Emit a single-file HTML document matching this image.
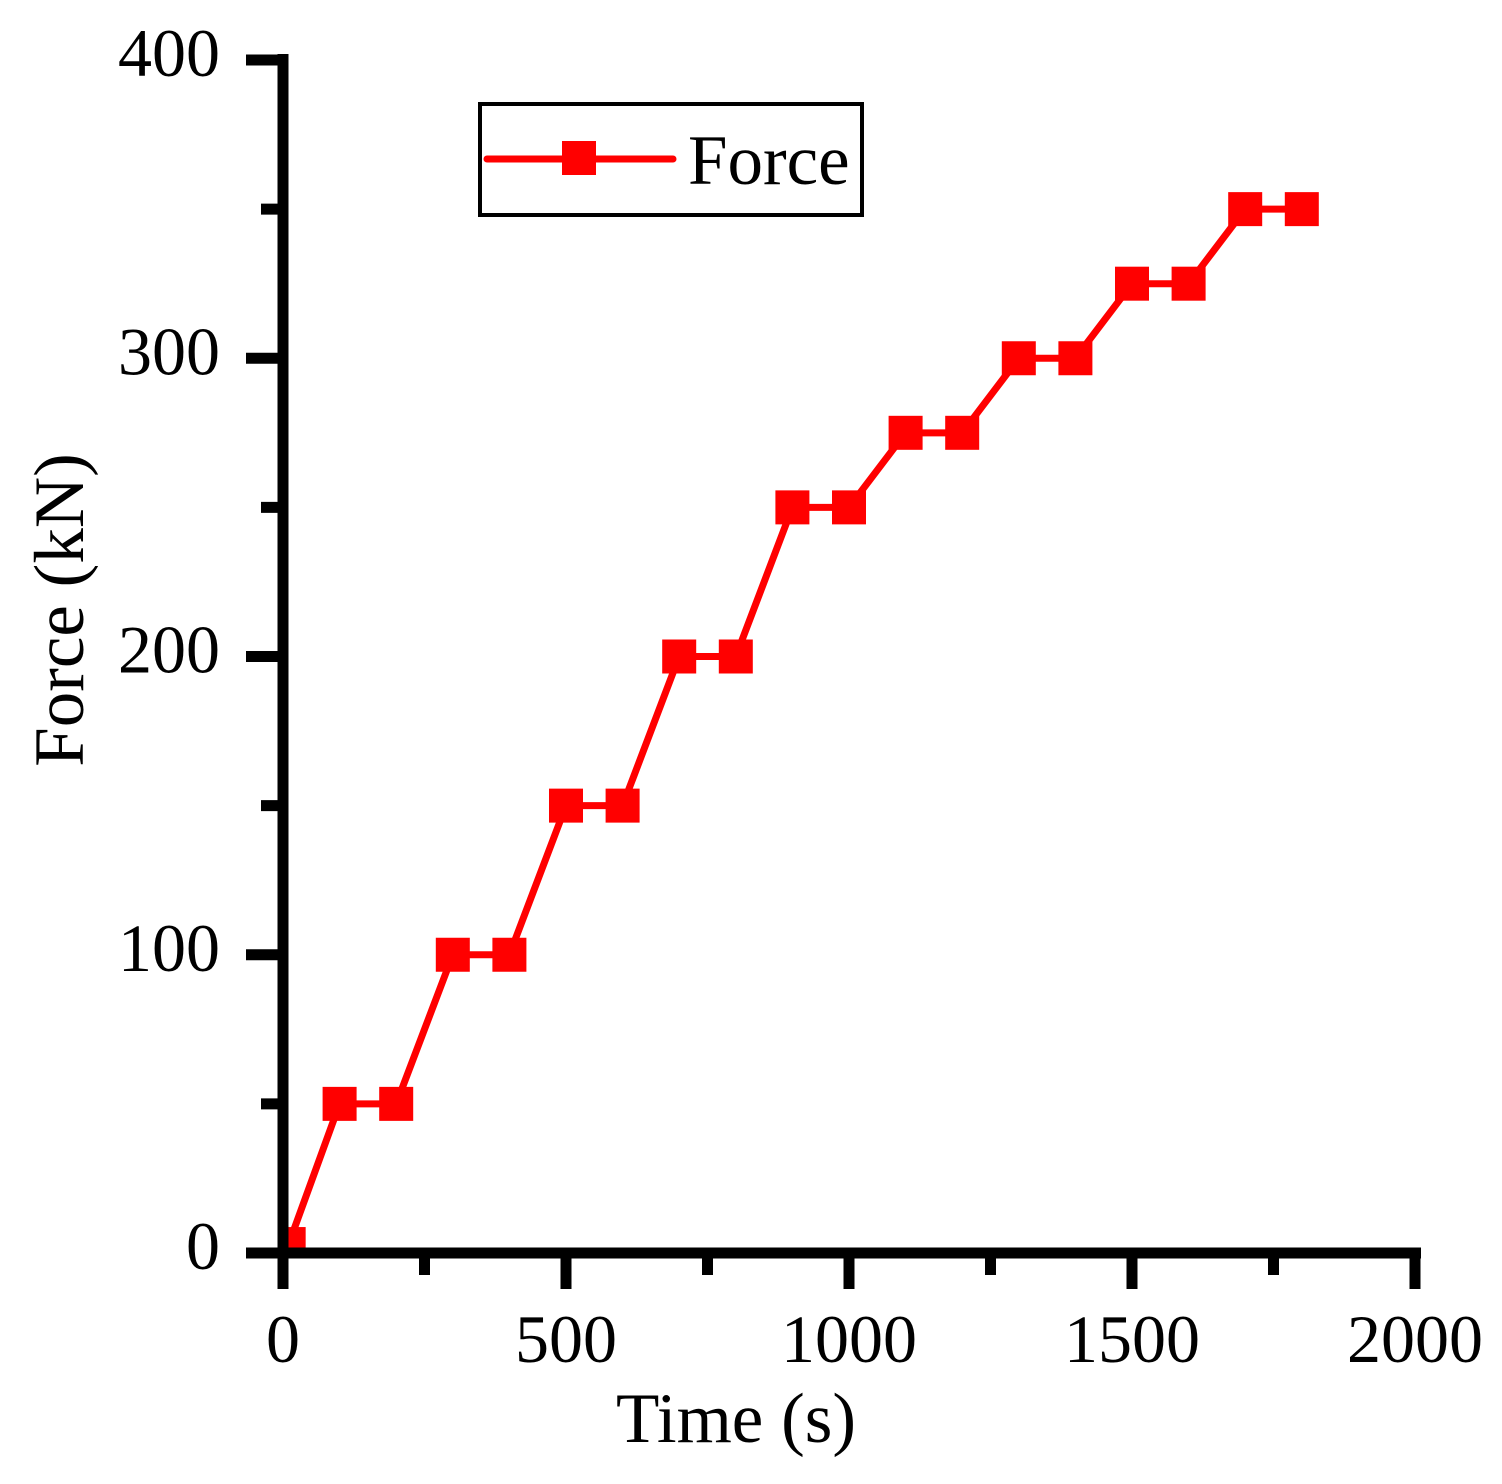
<!DOCTYPE html>
<html><head><meta charset="utf-8"><style>
html,body{margin:0;padding:0;background:#fff;}
svg{display:block;font-family:"Liberation Serif",serif;}
</style></head><body>
<svg id="chart" width="1502" height="1484" viewBox="0 0 1502 1484" xmlns="http://www.w3.org/2000/svg">
<defs><clipPath id="plotclip"><rect x="283" y="0" width="1200" height="1253"/></clipPath></defs>
<g id="series" clip-path="url(#plotclip)"></g>
<g id="axes"></g>
<g id="legend">
<rect x="480" y="104" width="382" height="111" fill="#fff" stroke="#000" stroke-width="4"/>
<line x1="487" y1="159" x2="673" y2="159" stroke="#f00" stroke-width="7" stroke-linecap="round"/>
<rect x="562" y="141" width="34" height="34" fill="#f00"/>
<text x="688" y="184" font-size="71">Force</text>
</g>
<text x="736" y="1442" font-size="71" text-anchor="middle">Time (s)</text>
<text transform="translate(83,610) rotate(-90)" font-size="71" text-anchor="middle">Force (kN)</text>
</svg>
<script>
const times=[10,100,200,300,400,500,600,700,800,900,1000,1100,1200,1300,1400,1500,1600,1700,1800];
const forces=[3,50,50,100,100,150,150,200,200,250,250,275,275,300,300,325,325,350,350];
const xTicks=[0,500,1000,1500,2000];
const xMinor=[250,750,1250,1750];
const yTicks=[0,100,200,300,400];
const yMinor=[50,150,250,350];
const NS="http://www.w3.org/2000/svg";
const X0=283,X1=1415,Y0=1253,Y1=60;
function sx(v){return X0+(v-0)/(2000-0)*(X1-X0);}
function sy(v){return Y0-(v-0)/(400-0)*(Y0-Y1);}
function mk(tag,attrs,parent){const e=document.createElementNS(NS,tag);for(const k in attrs)e.setAttribute(k,attrs[k]);parent.appendChild(e);return e;}
const series=document.getElementById('series');
const axes=document.getElementById('axes');
const pts=times.map((t,i)=>sx(t)+','+sy(forces[i])).join(' ');
const pl=mk('polyline',{points:pts,fill:'none',stroke:'#f00','stroke-width':7,'stroke-linejoin':'round'},series);


times.forEach((t,i)=>{
  const r=mk('rect',{x:sx(t)-17,y:sy(forces[i])-17,width:34,height:34,fill:'#f00'},series);
  
  
});
const ya=mk('line',{x1:X0,y1:54,x2:X0,y2:1259,stroke:'#000','stroke-width':11},axes);


const xa=mk('line',{x1:246,y1:Y0,x2:1421,y2:Y0,stroke:'#000','stroke-width':11},axes);


xTicks.forEach(v=>{
  const t=mk('line',{x1:sx(v),y1:Y0,x2:sx(v),y2:1289,stroke:'#000','stroke-width':11},axes);
  
  
  const l=mk('text',{x:sx(v),y:1362,'font-size':68,'text-anchor':'middle'},axes);
  l.textContent=v;
  
  
});
xMinor.forEach(v=>{
  const t=mk('line',{x1:sx(v),y1:Y0,x2:sx(v),y2:1275,stroke:'#000','stroke-width':11},axes);
  
  
});
yTicks.forEach(v=>{
  const t=mk('line',{x1:246,y1:sy(v),x2:X0,y2:sy(v),stroke:'#000','stroke-width':11},axes);
  
  
  const l=mk('text',{x:220,y:sy(v)+16,'font-size':68,'text-anchor':'end'},axes);
  l.textContent=v;
  
  
});
yMinor.forEach(v=>{
  const t=mk('line',{x1:261,y1:sy(v),x2:X0,y2:sy(v),stroke:'#000','stroke-width':11},axes);
  
  
});
</script>
</body></html>
